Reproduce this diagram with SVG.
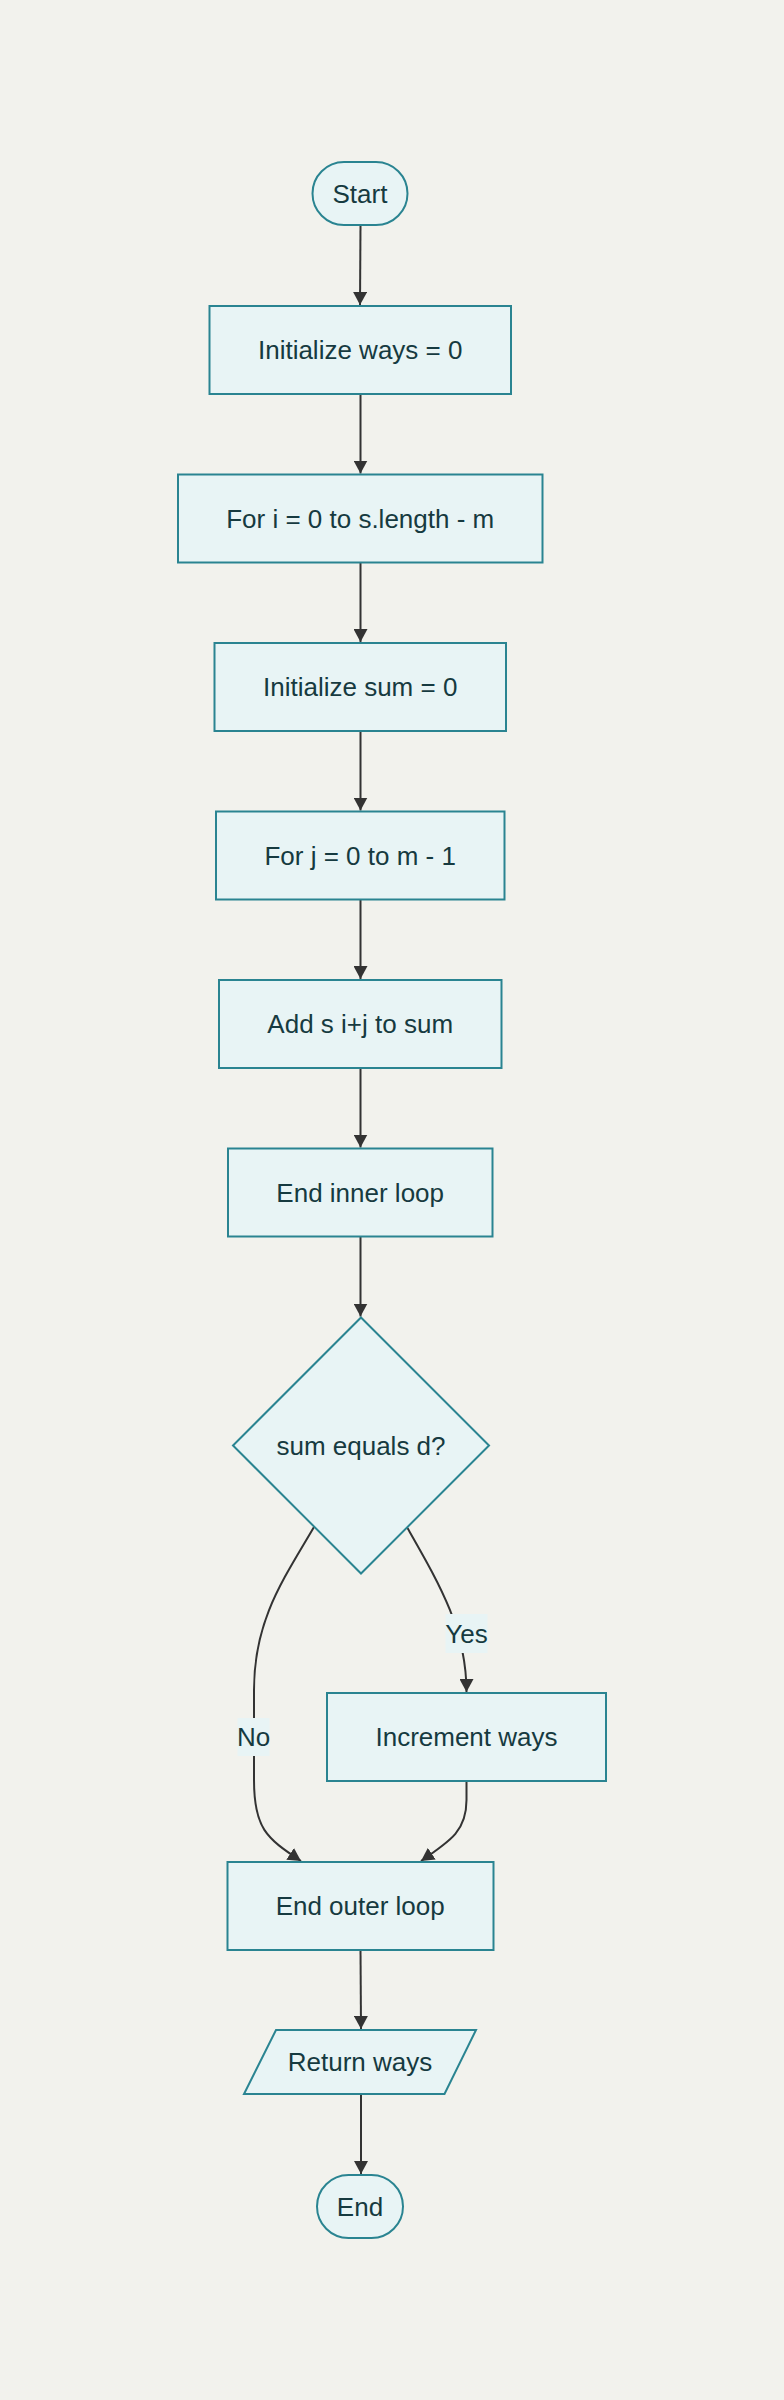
<svg xmlns="http://www.w3.org/2000/svg" width="784" height="2400" viewBox="0 0 784 2400">
<defs>
<marker id="arr" viewBox="0 0 10 10" refX="10" refY="5" markerUnits="userSpaceOnUse" markerWidth="13" markerHeight="14" orient="auto" preserveAspectRatio="none">
<path d="M0,0 L10,5 L0,10 z" fill="#333333"/>
</marker>
<style>
.n{fill:#e8f4f5;stroke:#2a8491;stroke-width:2}
.t{font-family:"Liberation Sans",Arial,sans-serif;font-size:26px;fill:#163a40;text-anchor:middle}
.e{fill:none;stroke:#333333;stroke-width:2;marker-end:url(#arr)}
.lb{fill:#e8f4f5;stroke:none}
</style>
</defs>
<rect width="784" height="2400" fill="#f2f2ed"/>
<g id="connectors">
<path class="e" d="M360.5,226 L360,305"/>
<path class="e" d="M360.5,394 L360.5,473.5"/>
<path class="e" d="M360.5,562.5 L360.5,642"/>
<path class="e" d="M360.5,731 L360.5,810.5"/>
<path class="e" d="M360.5,899.5 L360.5,979"/>
<path class="e" d="M360.5,1068 L360.5,1147.5"/>
<path class="e" d="M360.5,1236.5 L360.5,1316.5"/>
<path class="e" d="M314,1527 C283,1580 254,1620 254,1690 L254,1780 C254,1828 266,1838 301,1861"/>
<path class="e" d="M407.5,1528 C440,1585 466.5,1630 466.5,1692"/>
<path class="e" d="M466.5,1781 L466.5,1800 C466.5,1830 452,1840 421,1861"/>
<path class="e" d="M360.5,1950 L361,2029"/>
<path class="e" d="M361,2094 L361,2174"/>
<rect class="lb" x="237.5" y="1718" width="32" height="38"/>
<text class="t" x="253.5" y="1746">No</text>
<rect class="lb" x="445.5" y="1614" width="42" height="39"/>
<text class="t" x="466.5" y="1642.5">Yes</text>
</g>
<g id="start">
<rect class="n" x="312.5" y="162" width="95" height="63" rx="31.5" ry="31.5"/>
<text class="t" x="360" y="202.5">Start</text>
</g>
<g id="init_ways">
<rect class="n" x="209.5" y="306" width="301.5" height="88"/>
<text class="t" x="360.2" y="359">Initialize ways = 0</text>
</g>
<g id="for_i">
<rect class="n" x="178" y="474.5" width="364.5" height="88"/>
<text class="t" x="360.2" y="527.5">For i = 0 to s.length - m</text>
</g>
<g id="init_sum">
<rect class="n" x="214.5" y="643" width="291.5" height="88"/>
<text class="t" x="360.2" y="696">Initialize sum = 0</text>
</g>
<g id="for_j">
<rect class="n" x="216" y="811.5" width="288.5" height="88"/>
<text class="t" x="360.2" y="864.5">For j = 0 to m - 1</text>
</g>
<g id="add_s">
<rect class="n" x="219" y="980" width="282.5" height="88"/>
<text class="t" x="360.2" y="1033">Add s i+j to sum</text>
</g>
<g id="end_inner">
<rect class="n" x="228" y="1148.5" width="264.5" height="88"/>
<text class="t" x="360.2" y="1201.5">End inner loop</text>
</g>
<g id="decision">
<polygon class="n" points="361,1317.5 489,1445.5 361,1573.5 233,1445.5"/>
<text class="t" x="361" y="1454.5">sum equals d?</text>
</g>
<g id="increment">
<rect class="n" x="327" y="1693" width="279" height="88"/>
<text class="t" x="466.5" y="1746">Increment ways</text>
</g>
<g id="end_outer">
<rect class="n" x="227.5" y="1862" width="266" height="88"/>
<text class="t" x="360.2" y="1915">End outer loop</text>
</g>
<g id="return_ways">
<polygon class="n" points="276,2030 476,2030 444.5,2094 244,2094"/>
<text class="t" x="360" y="2071">Return ways</text>
</g>
<g id="end">
<rect class="n" x="317" y="2175" width="86" height="63" rx="31.5" ry="31.5"/>
<text class="t" x="360" y="2215.5">End</text>
</g>
</svg>
